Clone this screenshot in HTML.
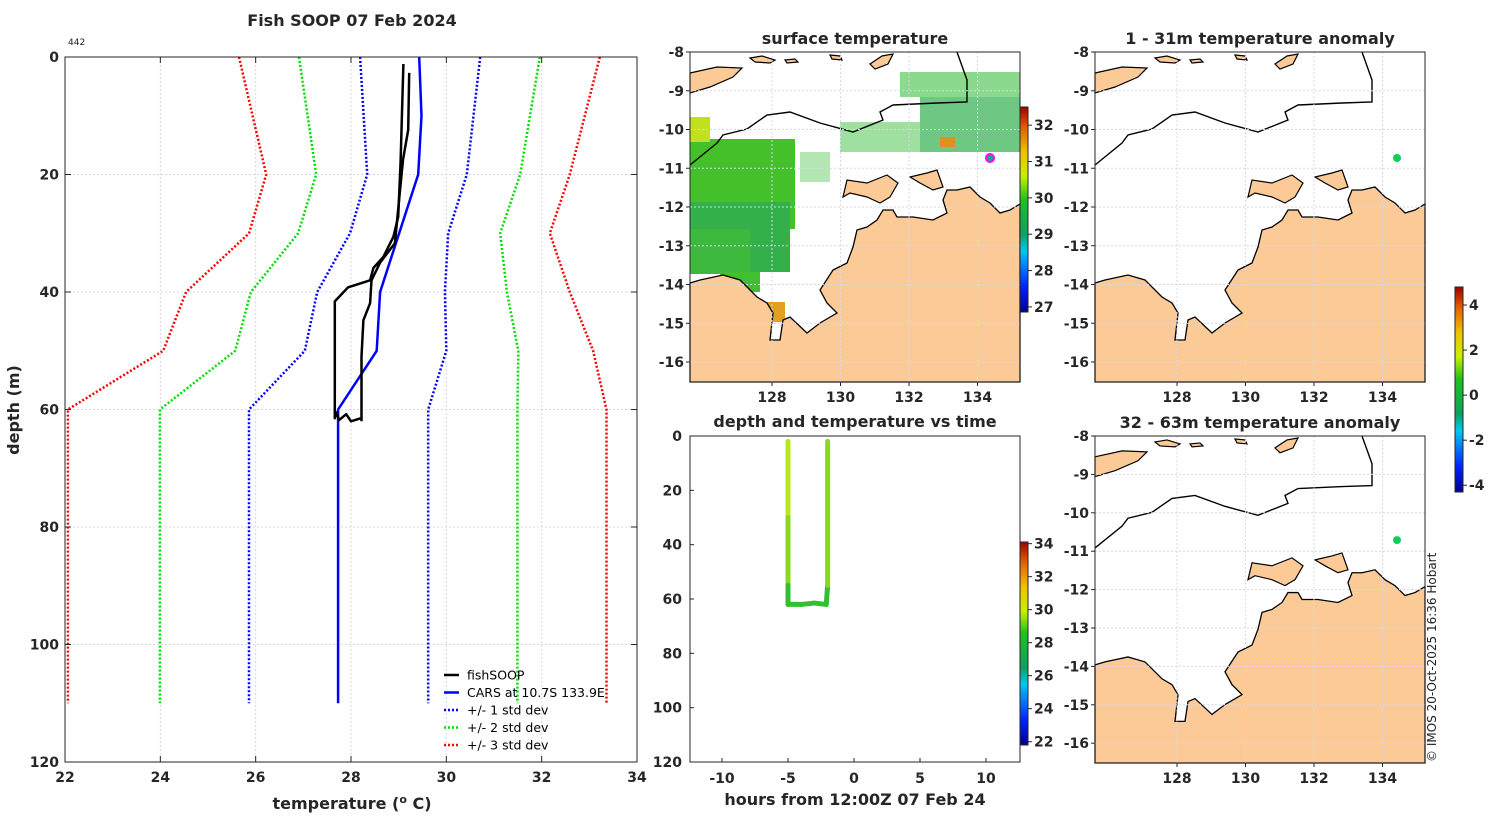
<!DOCTYPE html>
<html><head><meta charset="utf-8">
<style>
html,body{margin:0;padding:0;background:#fff;}
svg{display:block;font-family:"DejaVu Sans","Liberation Sans",sans-serif;}
.t{font-weight:bold;font-size:16px;fill:#262626;}
.tk{font-weight:bold;font-size:14px;fill:#262626;}
.lg{font-size:12.5px;fill:#000;}
</style></head>
<body>
<svg id="s" width="1500" height="820" viewBox="0 0 1500 820" xmlns="http://www.w3.org/2000/svg">
<defs>
<linearGradient id="jet" x1="0" y1="1" x2="0" y2="0">
<stop offset="0" stop-color="#00008f"/><stop offset="0.12" stop-color="#0020ff"/><stop offset="0.3" stop-color="#00c8f0"/><stop offset="0.38" stop-color="#10a060"/><stop offset="0.55" stop-color="#20c020"/><stop offset="0.66" stop-color="#c8f000"/><stop offset="0.78" stop-color="#f0c000"/><stop offset="0.9" stop-color="#e06000"/><stop offset="1" stop-color="#a00000"/>
</linearGradient>
</defs>
<g id="main"></g>
<g id="maps"></g>
<g id="dt"></g>
<text x="1436" y="762" transform="rotate(-90 1436 762)" font-size="12" fill="#222">© IMOS 20-Oct-2025 16:36 Hobart</text>
</svg>
<script>
// ---- profile data ----
const xTicks=[22,24,26,28,30,32,34];
const yTicks=[0,20,40,60,80,100,120];
const stdDepths=[0,20,30,40,50,60,110];
const carsDepths=[0,10,20,40,50,60,110];
const carsTemp=[29.43,29.48,29.41,28.61,28.54,27.73,27.73];
const std1Lo=[28.19,28.34,27.98,27.29,27.03,25.86,25.86];
const std1Hi=[30.71,30.43,30.04,29.97,30.0,29.62,29.62];
const std2Lo=[26.91,27.27,26.89,25.9,25.57,23.99,23.99];
const std2Hi=[31.96,31.55,31.13,31.27,31.51,31.49,31.49];
const std3Lo=[25.65,26.22,25.86,24.54,24.06,22.06,22.06];
const std3Hi=[33.22,32.59,32.17,32.59,33.08,33.36,33.36];
const fishTempA=[29.1,29.04,28.99,28.89,28.68,28.47,28.4,27.94,27.66,27.66,27.7,27.75,27.9,28.0,28.2];
const fishDepA=[1.2,17.8,27.2,30.6,34,35.9,38,39.2,41.6,61.5,60.5,61.8,60.8,62,61.5];
const fishTempB=[29.22,29.2,29.09,29.0,28.92,28.61,28.43,28.4,28.26,28.22,28.22];
const fishDepB=[2.7,12.4,17.5,25,31.7,35,38,41.9,44.8,51,62];
// ---- depth vs time data ----
const dtTimes=[-5.0,-5.0,-5.0,-5.0,-4.0,-3.0,-2.1,-2.0,-2.0,-2.0];
const dtDepths=[2,30,55,62,62,61.5,62,55,30,2];
const dtTemps=[29.1,28.9,27.8,27.7,27.7,27.8,28.0,28.3,28.9,29.2];
const dtXTicks=[-10,-5,0,5,10];
const dtYTicks=[0,20,40,60,80,100,120];
const lonTicks=[128,130,132,134];
const latTicks=[-8,-9,-10,-11,-12,-13,-14,-15,-16];
const sstTicks=[27,28,29,30,31,32];
const anomTicks=[4,2,0,-2,-4];
const dtCTicks=[22,24,26,28,30,32,34];

const NS="http://www.w3.org/2000/svg";
function mk(p,tag,a,txt){const e=document.createElementNS(NS,tag);for(const k in a)e.setAttribute(k,a[k]);if(txt!==undefined)e.textContent=txt;p.appendChild(e);return e;}
const main=document.getElementById('main');
const X=t=>65+(t-22)*(572/12), Y=d=>57+d*(705/120);
const GRID='#d4d8ea';
for(const t of xTicks){const g=mk(main,'line',{x1:X(t),x2:X(t),y1:57,y2:762,stroke:GRID,'stroke-dasharray':'2,2'});
}
for(const d of yTicks){const g=mk(main,'line',{x1:65,x2:637,y1:Y(d),y2:Y(d),stroke:GRID,'stroke-dasharray':'2,2'});
}
function line(p,xs,ys,fx,fy,col,w,dash,name){
 const pts=xs.map((v,i)=>fx(v).toFixed(1)+','+fy(ys[i]).toFixed(1)).join(' ');
 const e=mk(p,'polyline',{points:pts,fill:'none',stroke:col,'stroke-width':w,'stroke-linejoin':'round'});
 if(dash)e.setAttribute('stroke-dasharray',dash);
 
 
}
line(main,std3Lo,stdDepths,X,Y,'#f00',2.5,'2,2','std3-low-line');
line(main,std3Hi,stdDepths,X,Y,'#f00',2.5,'2,2','std3-high-line');
line(main,std2Lo,stdDepths,X,Y,'#0d0',2.5,'2,2','std2-low-line');
line(main,std2Hi,stdDepths,X,Y,'#0d0',2.5,'2,2','std2-high-line');
line(main,std1Lo,stdDepths,X,Y,'#00f',2.5,'2,2','std1-low-line');
line(main,std1Hi,stdDepths,X,Y,'#00f',2.5,'2,2','std1-high-line');
line(main,carsTemp,carsDepths,X,Y,'#00f',2.5,null,'cars-line');
line(main,fishTempA,fishDepA,X,Y,'#000',2.5,null,'fishsoop-downcast');
line(main,fishTempB,fishDepB,X,Y,'#000',2.5,null,'fishsoop-upcast');
mk(main,'rect',{x:65,y:57,width:572,height:705,fill:'none',stroke:'#262626','stroke-width':1});
for(const t of xTicks){mk(main,'line',{x1:X(t),x2:X(t),y1:762,y2:756,stroke:'#262626'});mk(main,'line',{x1:X(t),x2:X(t),y1:57,y2:63,stroke:'#262626'});
const l=mk(main,'text',{x:X(t),y:782,'text-anchor':'middle',class:'tk'},t);}
for(const d of yTicks){mk(main,'line',{x1:65,x2:71,y1:Y(d),y2:Y(d),stroke:'#262626'});mk(main,'line',{x1:637,x2:631,y1:Y(d),y2:Y(d),stroke:'#262626'});
const l=mk(main,'text',{x:59,y:Y(d)+5,'text-anchor':'end',class:'tk'},d);}
mk(main,'text',{x:352,y:26,'text-anchor':'middle',class:'t',},'Fish SOOP 07 Feb 2024');
mk(main,'text',{x:68,y:45,'font-size':'9',fill:'#222',},'442');
const xl=mk(main,'text',{x:352,y:809,'text-anchor':'middle',class:'t',},'temperature (');
mk(xl,'tspan',{dy:'-6','font-size':'11'},'o');mk(xl,'tspan',{dy:'6'},' C)');
mk(main,'text',{x:19,y:410,'text-anchor':'middle',class:'t',transform:'rotate(-90 19 410)',},'depth (m)');
const leg=[['fishSOOP','#000',null],['CARS at 10.7S 133.9E','#00f',null],['+/- 1 std dev','#00f','2,2'],['+/- 2 std dev','#0d0','2,2'],['+/- 3 std dev','#f00','2,2']];
leg.forEach((L,i)=>{const y=675+i*17.5;const g=mk(main,'g',{});
const ln=mk(g,'line',{x1:444,x2:459,y1:y,y2:y,stroke:L[1],'stroke-width':2.5});if(L[2])ln.setAttribute('stroke-dasharray',L[2]);
mk(g,'text',{x:467,y:y+4.5,class:'lg'},L[0]);});

// ---- maps ----
const maps=document.getElementById('maps');
const coast="M0,231 L10,228 L33,223 L50,228 L67,245 L77,251 L83,261 L80,288 L90,288 L93,268 L100,265 L117,281 L130,271 L147,261 L137,251 L130,238 L143,218 L157,211 L163,195 L167,178 L177,175 L187,168 L193,158 L203,158 L207,165 L223,165 L243,168 L257,161 L253,148 L257,138 L267,138 L280,135 L290,145 L300,151 L310,161 L320,158 L330,152 L330,330 L0,330 Z";
const isl1="M153,145 L157,128 L177,131 L197,123 L208,131 L200,145 L190,151 L177,145 L160,141 Z";
const isl2="M220,125 L237,121 L247,118 L253,135 L243,138 L230,131 Z";
const timor="M0,21 L27,15 L52,16 L43,25 L20,35 L0,41 Z";
const smallIs=["M60,6 L72,4 L85,8 L80,11 L65,10 Z","M95,8 L105,7 L108,10 L97,11 Z","M180,12 L192,4 L203,2 L198,12 L185,17 Z","M140,3 L150,4 L152,8 L142,7 Z"];
const eez="M267,0 L277,28 L277,50 L247,51 L203,53 L190,60 L193,68 L163,80 L130,71 L100,60 L77,63 L57,77 L33,83 L27,91 L0,113";
function drawMap(ox,oy,h,title,name,ticksX,dots,green){
 const g=mk(maps,'g',{transform:`translate(${ox},${oy})`});
 const sy=h/330;
 const inner=mk(g,'g',{transform:`scale(1,${sy})`});
 if(green){for(const r of green)mk(inner,'rect',{x:r[0],y:r[1],width:r[2],height:r[3],fill:r[4],opacity:r[5]||1});}
 mk(inner,'path',{d:coast,fill:'#fbca97',stroke:'#000','stroke-width':1.3});
 for(const p of [isl1,isl2,timor,...smallIs])mk(inner,'path',{d:p,fill:'#fbca97',stroke:'#000','stroke-width':1.2});
 mk(inner,'path',{d:eez,fill:'none',stroke:'#000','stroke-width':1.4});
 const LX=l=>13.5+(l-126)*34.25, LY=l=>(-8-l)*38.75;
 for(const l of lonTicks){mk(inner,'line',{x1:LX(l),x2:LX(l),y1:0,y2:330,stroke:GRID,'stroke-dasharray':'2,2'});}
 for(const l of latTicks){mk(inner,'line',{x1:0,x2:330,y1:LY(l),y2:LY(l),stroke:GRID,'stroke-dasharray':'2,2'});}
 for(const d of dots){const c=mk(inner,'circle',{cx:d[0],cy:d[1],r:d[2],fill:d[3],stroke:d[4]||'none','stroke-width':2});}
 mk(g,'rect',{x:0,y:0,width:330,height:h,fill:'none',stroke:'#262626'});
 for(const l of latTicks){const y=LY(l)*sy;mk(g,'line',{x1:0,x2:-4,y1:y,y2:y,stroke:'#262626'});
  const t=mk(g,'text',{x:-6,y:y+5,'text-anchor':'end',class:'tk'},l);}
 for(const l of lonTicks){const x=LX(l);mk(g,'line',{x1:x,x2:x,y1:h,y2:h+4,stroke:'#262626'});
  const t=mk(g,'text',{x:x,y:h+20,'text-anchor':'middle',class:'tk'},l);}
 mk(g,'text',{x:165,y:-8,'text-anchor':'middle',class:'t'},title);
}
const green=[[0,87,105,90,'#44c02a'],[0,150,100,70,'#33b04a'],[0,177,60,45,'#3cb83c'],[30,220,40,20,'#40c030'],[0,65,20,25,'#c0e020'],[210,20,120,25,'#3cc040',0.6],[230,45,100,55,'#30b050',0.7],[150,70,80,30,'#40c040',0.5],[250,85,15,10,'#e09020'],[110,100,30,30,'#40c040',0.4],[75,250,20,20,'#e0a020']];
drawMap(690,52,330,'surface temperature','sst-map',lonTicks,[[300,106,4,'#1a8','#f0f']],green);
drawMap(1095,52,330,'1 - 31m temperature anomaly','anomaly-map-shallow',lonTicks,[[302,106,4,'#1c5']]);
drawMap(1095,436,327,'32 - 63m temperature anomaly','anomaly-map-deep',lonTicks,[[302,105,4,'#1c5']]);
function cbar(x,y0,y1,lo,hi,ticks,name){
 const g=mk(maps,'g',{});
 mk(g,'rect',{x:x,y:y0,width:8,height:y1-y0,fill:'url(#jet)',stroke:'#262626'});
 for(const t of ticks){const y=y1-(t-lo)/(hi-lo)*(y1-y0);mk(g,'line',{x1:x+8,x2:x+12,y1:y,y2:y,stroke:'#262626'});
 mk(g,'text',{x:x+14,y:y+5,class:'tk','font-size':'12'},t);}
}
cbar(1020,107,312,26.86,32.5,sstTicks,'sst-colorbar');
cbar(1455,287,492,-4.3,4.8,anomTicks,'anomaly-colorbar');
cbar(1020,542,745,21.8,34.1,dtCTicks,'depth-time-colorbar');

// ---- depth vs time ----
const dt=document.getElementById('dt');
const TX=t=>854+t*13.2, TY=d=>436+d*(326/120);
for(const t of dtXTicks){mk(dt,'line',{x1:TX(t),x2:TX(t),y1:762,y2:758,stroke:'#262626'});
 const l=mk(dt,'text',{x:TX(t),y:783,'text-anchor':'middle',class:'tk'},t);}
for(const d of dtYTicks){mk(dt,'line',{x1:690,x2:694,y1:TY(d),y2:TY(d),stroke:'#262626'});
 const l=mk(dt,'text',{x:682,y:TY(d)+5,'text-anchor':'end',class:'tk'},d);}
function tcol(t){return t>29?'#b8e81c':(t>28.2?'#8cd820':'#30c030');}
for(let i=0;i<dtTimes.length-1;i++){
 const s=mk(dt,'line',{x1:TX(dtTimes[i]),y1:TY(dtDepths[i]),x2:TX(dtTimes[i+1]),y2:TY(dtDepths[i+1]),stroke:tcol(dtTemps[i]),'stroke-width':5,'stroke-linecap':'round'});
 
 
}
mk(dt,'rect',{x:690,y:436,width:330,height:326,fill:'none',stroke:'#262626'});
mk(dt,'text',{x:855,y:427,'text-anchor':'middle',class:'t'},'depth and temperature vs time');
mk(dt,'text',{x:855,y:805,'text-anchor':'middle',class:'t'},'hours from 12:00Z 07 Feb 24');
</script>
</body></html>
